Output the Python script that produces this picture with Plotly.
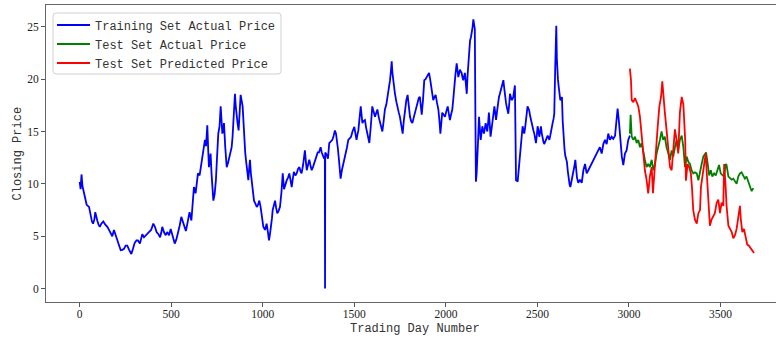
import plotly.graph_objects as go

train_day = [0, 5, 10, 15, 24, 32, 38, 51, 60, 67, 73, 80, 85, 90, 96, 103, 110, 118, 129, 140, 151, 160, 169, 178, 187, 195, 202, 213, 224, 233, 242, 251, 260, 270, 282, 291, 300, 310, 318, 329, 336, 342, 351, 360, 369, 378, 390, 402, 411, 420, 430, 439, 445, 451, 460, 470, 478, 488, 497, 505, 512, 519, 528, 537, 546, 555, 564, 573, 580, 588, 594, 600, 610, 618, 624, 633, 640, 646, 655, 661, 668, 675, 684, 690, 697, 702, 706, 711, 715, 720, 725, 730, 737, 744, 750, 757, 764, 770, 775, 779, 784, 788, 795, 803, 810, 817, 823, 830, 835, 839, 844, 848, 852, 857, 862, 868, 873, 879, 884, 890, 895, 899, 904, 908, 914, 921, 926, 930, 935, 940, 946, 952, 960, 967, 974, 981, 988, 994, 999, 1003, 1012, 1021, 1028, 1034, 1040, 1045, 1050, 1054, 1060, 1067, 1073, 1079, 1086, 1094, 1102, 1109, 1116, 1124, 1131, 1138, 1145, 1152, 1158, 1164, 1170, 1178, 1185, 1192, 1200, 1206, 1212, 1220, 1230, 1235, 1240, 1247, 1254, 1260, 1267, 1274, 1280, 1287, 1294, 1300, 1307, 1312, 1316, 1322, 1327, 1333, 1339, 1340, 1341, 1349, 1356, 1363, 1370, 1380, 1387, 1394, 1400, 1405, 1410, 1416, 1420, 1425, 1432, 1440, 1446, 1453, 1460, 1467, 1474, 1482, 1490, 1500, 1506, 1512, 1517, 1522, 1528, 1535, 1540, 1544, 1550, 1558, 1564, 1571, 1577, 1582, 1590, 1598, 1605, 1613, 1620, 1626, 1633, 1640, 1646, 1653, 1660, 1667, 1675, 1682, 1688, 1695, 1700, 1704, 1708, 1713, 1718, 1722, 1730, 1737, 1743, 1749, 1756, 1764, 1770, 1777, 1784, 1791, 1797, 1804, 1810, 1817, 1824, 1831, 1838, 1846, 1852, 1858, 1863, 1868, 1875, 1882, 1889, 1895, 1902, 1908, 1914, 1919, 1925, 1931, 1938, 1944, 1951, 1959, 1965, 1970, 1975, 1980, 1988, 1995, 2002, 2010, 2016, 2022, 2028, 2035, 2040, 2046, 2052, 2059, 2064, 2068, 2073, 2077, 2082, 2086, 2090, 2095, 2100, 2104, 2109, 2114, 2118, 2123, 2128, 2132, 2137, 2141, 2146, 2150, 2154, 2158, 2161, 2164, 2168, 2172, 2176, 2181, 2186, 2190, 2195, 2199, 2204, 2208, 2213, 2217, 2222, 2226, 2231, 2235, 2240, 2244, 2250, 2256, 2261, 2265, 2270, 2274, 2280, 2286, 2290, 2295, 2300, 2305, 2310, 2314, 2319, 2323, 2328, 2332, 2337, 2341, 2346, 2350, 2355, 2359, 2364, 2368, 2373, 2377, 2380, 2383, 2388, 2392, 2396, 2401, 2406, 2410, 2415, 2419, 2424, 2428, 2433, 2437, 2442, 2446, 2451, 2455, 2460, 2464, 2469, 2474, 2478, 2483, 2488, 2492, 2497, 2501, 2506, 2510, 2515, 2519, 2524, 2528, 2533, 2537, 2542, 2547, 2551, 2556, 2561, 2565, 2570, 2574, 2579, 2583, 2588, 2592, 2597, 2603, 2606, 2608, 2612, 2616, 2620, 2625, 2630, 2634, 2638, 2643, 2648, 2652, 2656, 2661, 2666, 2671, 2676, 2680, 2685, 2689, 2694, 2698, 2703, 2707, 2712, 2716, 2723, 2732, 2742, 2751, 2760, 2769, 2778, 2787, 2796, 2805, 2814, 2823, 2832, 2841, 2851, 2860, 2869, 2878, 2887, 2896, 2905, 2914, 2924, 2933, 2938, 2945, 2950, 2955, 2961, 2965, 2969, 2978, 2987, 2996, 3005]
train_price = [10.2, 9.5, 10.9, 9.8, 9.1, 8.6, 8.0, 7.8, 6.85, 6.4, 6.2, 6.6, 7.3, 6.8, 6.5, 6.1, 5.9, 6.2, 6.4, 6.1, 5.9, 5.6, 5.25, 5.0, 5.6, 5.2, 4.8, 4.3, 3.66, 3.7, 3.8, 4.1, 4.1, 3.7, 3.3, 3.8, 4.35, 4.6, 4.6, 4.3, 4.9, 5.2, 4.9, 5.1, 5.3, 5.4, 5.6, 6.2, 5.9, 5.4, 5.2, 4.9, 5.3, 5.9, 5.4, 5.1, 5.4, 5.1, 5.7, 5.2, 4.8, 4.3, 4.7, 5.25, 6.0, 6.85, 6.4, 5.9, 5.5, 6.2, 6.8, 7.3, 6.5, 8.0, 9.7, 9.1, 10.4, 11.0, 10.8, 11.6, 12.2, 13.5, 14.2, 13.6, 15.6, 13.2, 11.6, 12.4, 12.9, 11.0, 9.6, 8.4, 9.0, 10.35, 12.5, 14.8, 15.5, 17.4, 16.0, 14.8, 15.2, 15.8, 13.5, 11.6, 12.0, 12.6, 12.9, 13.5, 14.5, 15.8, 17.2, 18.6, 17.5, 16.4, 15.8, 15.1, 16.8, 18.5, 18.0, 17.4, 15.8, 14.2, 13.0, 12.3, 11.2, 10.35, 11.5, 12.3, 11.0, 10.35, 9.2, 8.4, 8.1, 7.8, 8.0, 8.4, 7.8, 7.2, 6.4, 5.9, 5.6, 6.2, 5.4, 4.6, 5.3, 5.9, 6.7, 7.5, 8.0, 8.4, 7.7, 7.2, 7.4, 7.8, 9.2, 11.0, 9.5, 10.0, 10.35, 10.6, 11.0, 10.3, 9.7, 10.5, 11.15, 10.8, 11.0, 11.4, 11.6, 11.2, 11.0, 11.8, 13.2, 12.2, 11.3, 11.8, 12.3, 11.8, 11.3, 11.6, 11.9, 12.3, 12.7, 13.0, 13.0, 13.2, 13.5, 13.0, 12.7, 12.5, 12.6, 0.0, 13.0, 12.8, 12.4, 13.9, 14.0, 14.2, 14.6, 15.1, 14.8, 14.2, 13.4, 12.3, 11.2, 10.5, 11.3, 11.9, 12.3, 12.9, 13.5, 14.2, 14.3, 14.5, 15.0, 15.45, 14.8, 14.2, 14.7, 15.1, 16.2, 17.4, 16.5, 15.8, 16.0, 16.1, 15.4, 14.8, 14.3, 13.9, 15.5, 17.4, 16.9, 16.4, 16.8, 17.1, 16.4, 15.8, 15.4, 15.0, 16.0, 17.1, 17.6, 18.3, 19.0, 19.9, 20.8, 21.7, 20.6, 19.6, 19.0, 18.6, 17.8, 17.1, 16.8, 16.4, 15.6, 14.8, 16.0, 17.4, 18.0, 18.5, 17.4, 16.4, 16.0, 15.8, 16.3, 16.8, 17.4, 18.0, 18.2, 18.3, 17.4, 16.6, 18.0, 19.9, 20.0, 20.2, 20.4, 20.6, 20.0, 19.3, 18.6, 18.0, 18.3, 18.5, 17.8, 17.1, 16.0, 14.8, 15.8, 16.8, 16.6, 16.4, 16.9, 17.4, 16.7, 16.1, 16.6, 17.1, 18.0, 19.6, 20.4, 21.5, 20.8, 20.2, 20.6, 20.9, 20.7, 20.6, 20.2, 19.9, 20.3, 20.6, 19.6, 18.6, 20.2, 21.8, 22.8, 23.7, 24.0, 24.4, 25.0, 25.7, 25.2, 24.8, 17.0, 10.2, 11.0, 12.1, 14.2, 16.4, 15.0, 14.2, 14.9, 15.5, 15.1, 14.8, 15.3, 15.8, 15.4, 15.0, 15.9, 16.8, 15.6, 14.5, 15.3, 16.1, 16.8, 17.4, 16.7, 16.1, 17.0, 18.0, 18.3, 18.6, 19.0, 19.3, 19.6, 19.9, 19.1, 18.3, 17.8, 17.4, 17.0, 16.7, 17.6, 18.6, 18.3, 18.0, 18.1, 18.3, 18.9, 19.4, 15.0, 10.35, 10.3, 10.2, 11.0, 11.9, 12.7, 13.5, 14.5, 15.5, 15.1, 14.8, 15.4, 16.1, 16.8, 17.4, 17.2, 17.0, 16.5, 16.1, 15.8, 15.5, 15.1, 14.8, 14.3, 13.9, 14.7, 15.5, 15.0, 14.5, 15.0, 15.5, 14.8, 14.2, 14.0, 13.8, 14.0, 14.2, 14.4, 14.6, 14.4, 14.2, 14.6, 15.1, 15.4, 15.8, 16.2, 16.7, 21.0, 25.1, 22.0, 20.6, 20.0, 19.3, 18.6, 18.0, 18.1, 18.3, 16.0, 13.9, 13.3, 12.7, 12.4, 12.1, 11.2, 10.2, 9.9, 9.7, 10.1, 10.5, 11.0, 11.4, 11.8, 12.3, 11.2, 10.6, 10.1, 10.4, 10.1, 11.3, 11.9, 11.0, 11.3, 11.6, 11.9, 12.3, 12.6, 12.9, 13.2, 13.5, 12.9, 13.8, 14.2, 13.8, 14.8, 14.2, 14.5, 14.3, 14.6, 16.0, 17.2, 16.0, 14.8, 13.5, 12.6, 12.2, 11.8, 12.9, 13.2, 14.2, 14.6]

test_day = [3005, 3009, 3015, 3024, 3033, 3042, 3051, 3060, 3069, 3078, 3087, 3096, 3105, 3114, 3124, 3133, 3142, 3151, 3160, 3169, 3178, 3187, 3196, 3205, 3215, 3224, 3233, 3242, 3251, 3260, 3269, 3278, 3288, 3297, 3306, 3315, 3324, 3333, 3342, 3351, 3360, 3370, 3379, 3388, 3397, 3406, 3415, 3421, 3430, 3438, 3447, 3455, 3465, 3474, 3483, 3492, 3501, 3510, 3519, 3528, 3533, 3543, 3552, 3561, 3570, 3579, 3588, 3597, 3606, 3615, 3624, 3633, 3642, 3652, 3661, 3670, 3679]
test_actual = [14.8, 16.6, 14.5, 14.2, 14.5, 13.9, 14.2, 13.5, 13.9, 12.9, 12.3, 11.6, 11.9, 11.6, 12.3, 11.3, 11.9, 12.9, 13.5, 14.2, 15.0, 14.2, 14.5, 13.5, 12.9, 12.3, 13.2, 12.6, 13.5, 14.2, 13.2, 14.2, 14.6, 13.5, 11.6, 12.6, 12.1, 11.9, 11.3, 11.0, 11.1, 11.0, 10.35, 11.0, 11.9, 12.6, 12.9, 13.0, 11.9, 10.8, 11.3, 10.7, 11.0, 10.8, 11.3, 11.8, 11.0, 10.8, 10.7, 11.9, 11.8, 10.7, 10.5, 10.4, 10.5, 10.2, 10.0, 10.7, 11.0, 11.1, 10.8, 10.5, 10.7, 10.2, 9.7, 9.3, 9.6]

pred_day = [3005, 3011, 3015, 3024, 3033, 3042, 3051, 3060, 3069, 3078, 3087, 3096, 3105, 3114, 3124, 3131, 3138, 3147, 3157, 3166, 3175, 3182, 3189, 3196, 3205, 3215, 3224, 3233, 3242, 3251, 3260, 3269, 3278, 3288, 3297, 3302, 3307, 3311, 3320, 3329, 3338, 3344, 3351, 3360, 3370, 3379, 3388, 3393, 3402, 3411, 3419, 3426, 3433, 3442, 3451, 3460, 3469, 3479, 3488, 3497, 3506, 3515, 3520, 3528, 3533, 3543, 3552, 3561, 3570, 3579, 3588, 3597, 3606, 3611, 3619, 3628, 3637, 3646, 3655, 3664, 3675, 3683]
pred_price = [21.0, 19.9, 18.0, 17.8, 18.2, 17.8, 17.4, 16.4, 14.5, 12.9, 11.3, 10.4, 9.1, 10.7, 11.6, 9.1, 11.0, 13.2, 15.5, 17.4, 18.3, 19.8, 18.0, 16.8, 15.2, 13.6, 11.6, 11.3, 13.2, 15.2, 14.2, 12.9, 16.8, 18.3, 17.6, 16.1, 14.2, 10.3, 11.9, 11.6, 11.0, 9.7, 7.5, 6.6, 6.2, 7.2, 7.5, 9.7, 11.0, 11.9, 12.9, 10.7, 8.5, 6.0, 6.6, 6.9, 7.2, 8.2, 8.5, 7.2, 8.2, 7.9, 11.9, 9.7, 7.9, 6.0, 5.7, 5.4, 4.8, 5.1, 5.7, 6.6, 7.9, 6.6, 5.4, 5.7, 4.8, 4.2, 4.1, 3.9, 3.6, 3.4]

x_ticks = [0, 500, 1000, 1500, 2000, 2500, 3000, 3500]
y_ticks = [0, 5, 10, 15, 20, 25]

# figure geometry (pixels)
W, H = 776, 340
ML, MR, MT, MB = 46, 0, 5, 38
PW, PH = W - ML - MR, H - MT - MB


def px_x(p):
    return (p - ML) / PW


def px_y(p):
    return 1 - (p - MT) / PH


LW = 1.8
fig = go.Figure()
fig.add_trace(go.Scatter(x=train_day, y=train_price, mode="lines", name="Training Set Actual Price",
                         line=dict(color="#0000ff", width=LW)))
fig.add_trace(go.Scatter(x=test_day, y=test_actual, mode="lines", name="Test Set Actual Price",
                         line=dict(color="#008000", width=LW)))
fig.add_trace(go.Scatter(x=pred_day, y=pred_price, mode="lines", name="Test Set Predicted Price",
                         line=dict(color="#ff0000", width=LW)))

tickfont = dict(family="Liberation Serif", size=11.5, color="#222")
labfont = dict(family="Liberation Mono", size=12, color="#333")

# legend frame (rounded box) in paper coordinates
bx0, bx1, by0, by1, r = 53, 281, 13, 74, 3
def P(x, y):
    return f"{px_x(x):.5f},{px_y(y):.5f}"
frame = (f"M{P(bx0 + r, by0)} L{P(bx1 - r, by0)} Q{P(bx1, by0)} {P(bx1, by0 + r)} "
         f"L{P(bx1, by1 - r)} Q{P(bx1, by1)} {P(bx1 - r, by1)} "
         f"L{P(bx0 + r, by1)} Q{P(bx0, by1)} {P(bx0, by1 - r)} "
         f"L{P(bx0, by0 + r)} Q{P(bx0, by0)} {P(bx0 + r, by0)} Z")

fig.update_layout(
    width=W, height=H,
    margin=dict(l=ML, r=MR, t=MT, b=MB),
    paper_bgcolor="white", plot_bgcolor="white",
    showlegend=True,
    legend=dict(x=px_x(52), y=px_y(10.5), xanchor="left", yanchor="top",
                bgcolor="rgba(0,0,0,0)", borderwidth=0, itemwidth=33,
                font=labfont, tracegroupgap=0),
    shapes=[dict(type="path", path=frame, xref="paper", yref="paper",
                 fillcolor="rgba(255,255,255,0.8)", line=dict(color="#d0d0d0", width=1),
                 layer="above")],
    xaxis=dict(range=[-184, 3803], tickvals=x_ticks, ticks="outside", ticklen=4, tickwidth=1,
               tickcolor="#555", showline=True, linecolor="#666", linewidth=1, mirror=True,
               showgrid=False, zeroline=False, tickfont=tickfont, ticklabelstandoff=-3),
    yaxis=dict(range=[-1.28, 27.08], tickvals=y_ticks, ticks="outside", ticklen=4, tickwidth=1,
               tickcolor="#555", showline=True, linecolor="#666", linewidth=1,
               showgrid=False, zeroline=False, tickfont=tickfont),
    annotations=[
        dict(text="Trading Day Number", xref="paper", yref="paper", x=px_x(415), y=0,
             yshift=-27, xanchor="center", yanchor="middle", showarrow=False, font=labfont),
        dict(text="Closing Price", xref="paper", yref="paper", x=0, xshift=-29, y=0.5,
             xanchor="center", yanchor="middle", textangle=-90, showarrow=False, font=labfont),
    ],
)

fig.write_html("out.html", config={"displayModeBar": False},
               post_script="document.body.style.margin='0';")
